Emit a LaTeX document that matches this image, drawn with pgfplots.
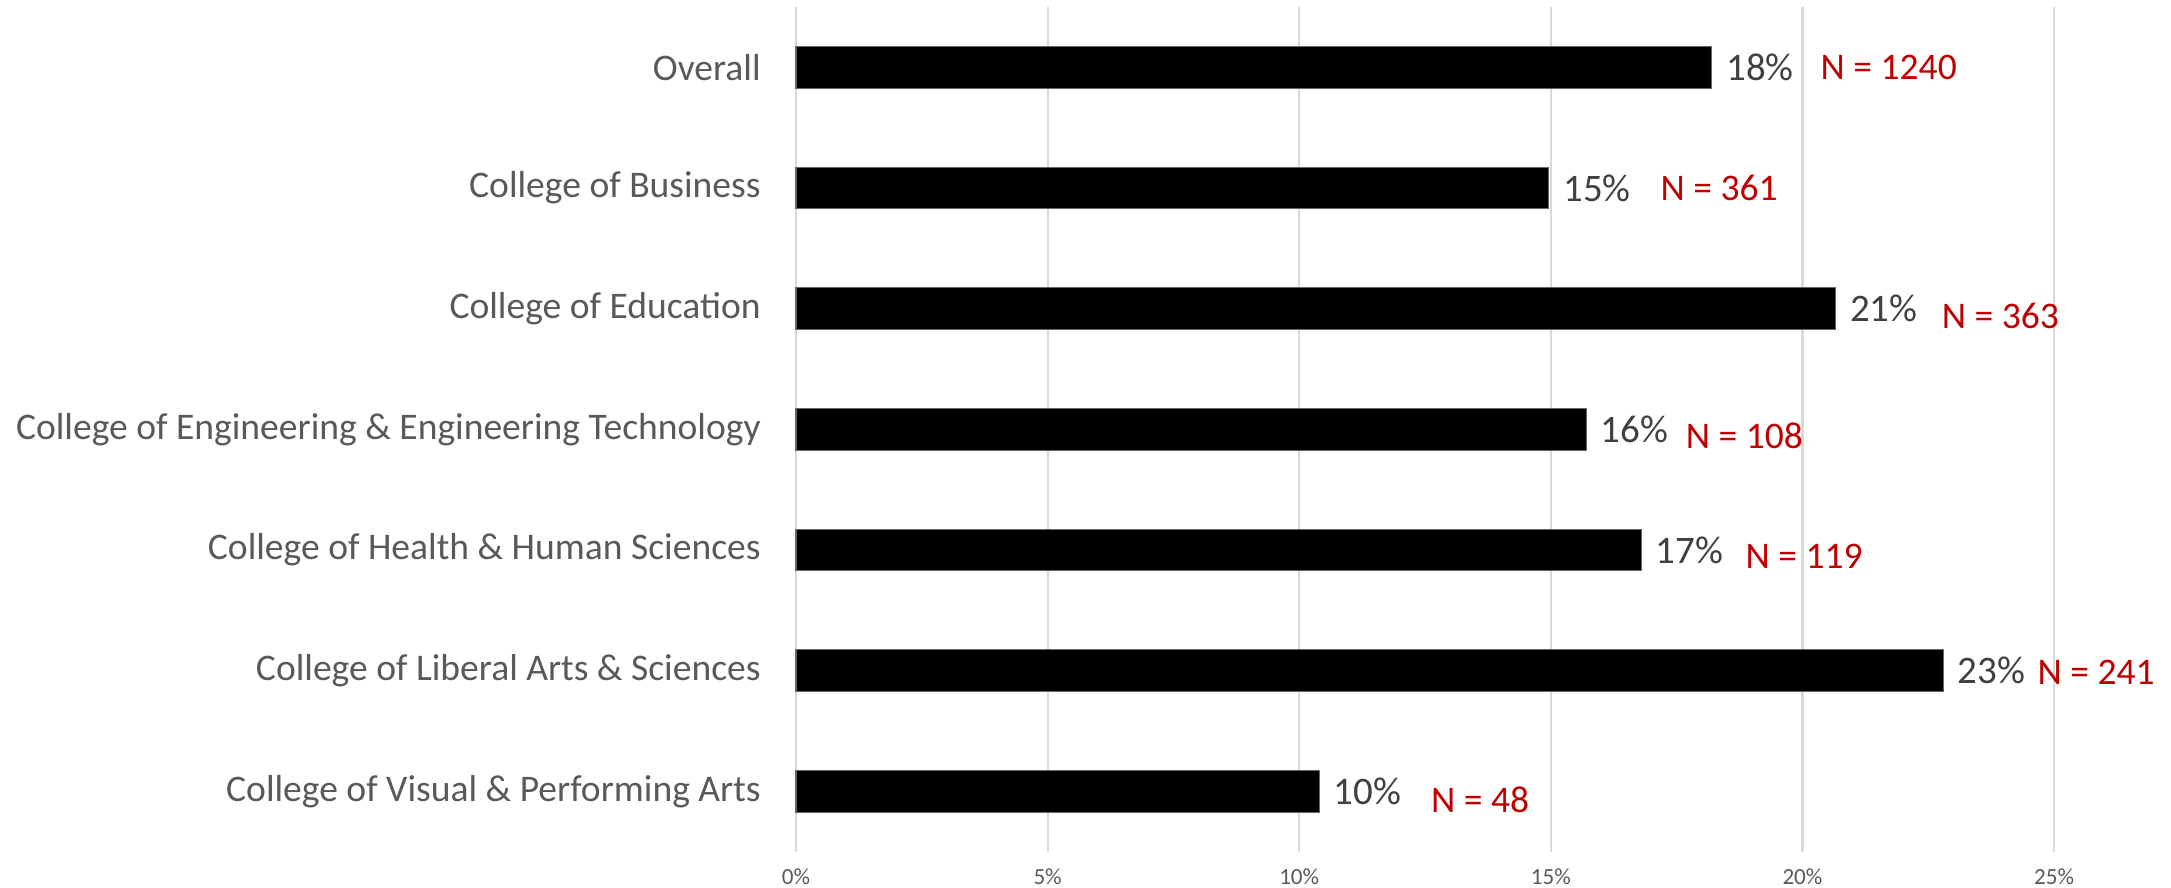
\documentclass[border=0pt]{standalone}
\usepackage{fontspec}
\setmainfont{Carlito}
\usepackage{pgfplots}
\pgfplotsset{compat=1.18}
\definecolor{catgray}{HTML}{595959}
\definecolor{valgray}{HTML}{404040}
\definecolor{gridgray}{HTML}{D9D9D9}
\definecolor{nred}{HTML}{C00000}
\begin{document}
\begin{tikzpicture}
\begin{axis}[
  scale only axis, width=452pt, height=303.5pt,
  xbar, bar width=15pt,
  xmin=0, xmax=25, ymin=-0.5, ymax=6.5, y dir=reverse,
  xtick={0,5,10,15,20,25},
  xticklabels={0\%,5\%,10\%,15\%,20\%,25\%},
  ytick={0,...,6},
  yticklabels={Overall, College of Business, College of Education,
    College of Engineering \& Engineering Technology,
    College of Health \& Human Sciences,
    College of Liberal Arts \& Sciences,
    College of Visual \& Performing Arts},
  major tick length=0pt,
  axis line style={draw=none},
  xmajorgrids, grid style={gridgray, line width=0.75pt},
  xticklabel style={font=\fontsize{8.3}{9}\selectfont, text=catgray, inner sep=0pt, anchor=north, yshift=-6pt},
  yticklabel style={font=\fontsize{13.5}{15}\selectfont, text=catgray, inner sep=0pt, anchor=east, xshift=-12.5pt},
  point meta=explicit symbolic,
  nodes near coords,
  nodes near coords style={font=\fontsize{14}{15}\selectfont, text=valgray, inner sep=0pt, anchor=west, xshift=5pt},
  clip=false,
]
\addplot[fill=black, draw=black!60, line width=0.4pt] coordinates {
  (18.2,0) [18\%]
  (14.96,1) [15\%]
  (20.66,2) [21\%]
  (15.7,3) [16\%]
  (16.8,4) [17\%]
  (22.8,5) [23\%]
  (10.4,6) [10\%]
};
\begin{scope}[every node/.style={font=\fontsize{13.5}{15}\selectfont, text=nred, inner sep=0pt, anchor=west}]
\node at (axis cs:20.35,0.0) {N = 1240};
\node at (axis cs:17.17,1.0) {N = 361};
\node at (axis cs:22.76,2.06) {N = 363};
\node at (axis cs:17.67,3.05) {N = 108};
\node at (axis cs:18.86,4.05) {N = 119};
\node at (axis cs:24.66,5.01) {N = 241};
\node at (axis cs:12.61,6.07) {N = 48};
\end{scope}
\end{axis}
\path (-286pt,-13pt) rectangle (494pt,306pt);
\end{tikzpicture}
\end{document}
